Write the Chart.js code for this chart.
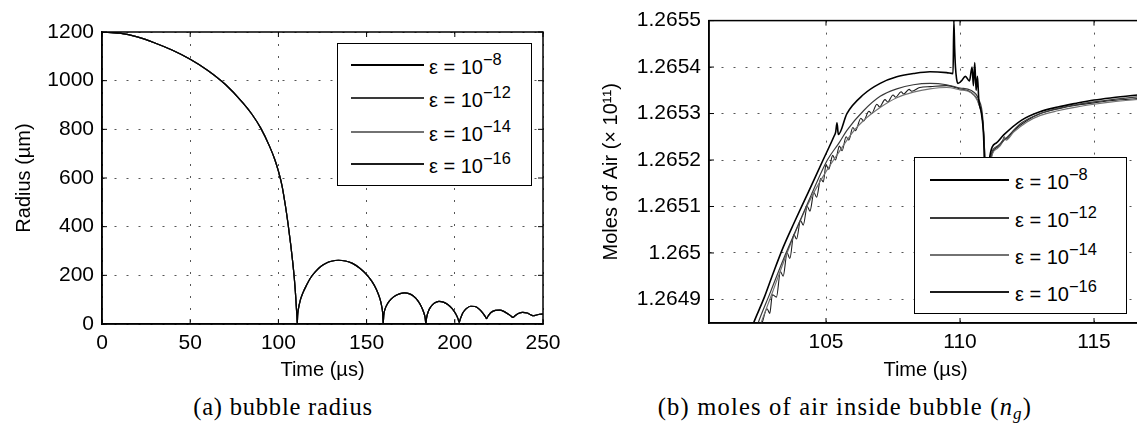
<!DOCTYPE html>
<html>
<head>
<meta charset="utf-8">
<script src="https://cdn.jsdelivr.net/npm/chart.js@4.4.1/dist/chart.umd.min.js"></script>
<style>
html,body{margin:0;padding:0;background:#fff;overflow:hidden;width:1137px;height:432px;}
#wrap{position:relative;width:1137px;height:432px;overflow:hidden;font-family:"Liberation Sans",Arial,sans-serif;color:#000;}
canvas{position:absolute;top:0;}
#c1{left:0;}
#c2{left:580px;}
.legend{position:absolute;background:#fff;border:1.5px solid #000;box-sizing:border-box;}
.sample{position:absolute;}
.lab{position:absolute;font-size:20px;white-space:nowrap;line-height:20px;}
.lab sup{font-size:0.82em;vertical-align:0.55em;line-height:0;}
.cap{position:absolute;top:394px;height:26px;line-height:26px;font-family:"Liberation Serif","Times New Roman",serif;font-size:24.5px;text-align:center;white-space:nowrap;letter-spacing:0.8px;}
.cap sub{font-size:0.7em;vertical-align:-0.25em;line-height:0;}
</style>
</head>
<body>
<div id="wrap">
  <canvas id="c1" width="570" height="390"></canvas>
  <canvas id="c2" width="580" height="390"></canvas>
  <div class="cap" style="left:133px;width:300px;">(a) bubble radius</div>
  <div class="cap" style="left:645px;width:400px;letter-spacing:1.2px;">(b) moles of air inside bubble (<i>n</i><sub><i>g</i></sub>)</div>
</div>
<script>
// ---------- data ----------
const epsExponents = [-8, -12, -14, -16];
const epsLabels = ['ε = 10⁻⁸', 'ε = 10⁻¹²', 'ε = 10⁻¹⁴', 'ε = 10⁻¹⁶'];

// (a) bubble radius (µm) vs time (µs) — all tolerances overlap
const radiusTime = [0,10,20,30,40,50,60,70,80,85,90,95,98,100,102,104,105.5,107,108,109,109.6,110,110.3,110.5,110.7,
  110.9,111.3,112.5,114,116,118,121,124,127,130,134,138,142,146,150,153,155.5,157.5,158.5,159.1,159.4,
  159.7,160.5,162,164,166.5,169,171.5,174,176.5,179,181,182.5,183.2,183.6,
  184,185,186.5,188.5,191,193.5,196,198.5,200.5,201.8,202.5,
  203.2,204.5,206.5,209,211.5,214,216,217.3,218,
  218.8,220.5,223,225.5,228,230.5,232,233,
  234,236,238.5,241,243,244.5,246,248,250];
const radiusValues = [1200,1195,1180,1155,1125,1088,1042,984,908,862,805,730,675,628,570,485,410,325,262,190,135,90,55,30,0,
  35,60,100,130,160,187,215,236,250,258,262,259,249,230,203,175,143,105,75,45,0,
  35,62,85,103,117,125,128,125,115,96,72,45,25,0,
  25,52,72,86,93,90,80,63,42,22,7,
  22,45,63,73,72,60,44,30,22,
  32,47,56,57,51,40,32,27,
  33,43,48,45,38,34,36,40,41];
const radiusXTicks = [0,50,100,150,200,250];
const radiusXTickLabels = ['0','50','100','150','200','250'];
const radiusYTicks = [0,200,400,600,800,1000,1200];
const radiusYTickLabels = ['0','200','400','600','800','1000','1200'];

// (b) moles of air (×10^11) vs time (µs)
const tEps8 = [102.1,102.3,102.7,103.0,103.4,103.81,104.35,104.89,105.29,105.36,105.41,105.46,105.78,106.40,107.02,107.64,108.26,108.88,109.50,109.74,109.77,109.80,109.83,109.87,109.92,110.05,110.2,110.35,110.45,110.5,110.55,110.6,110.65,110.7,110.8,110.88,110.93,111.0,111.09,111.36,111.63,112.30,112.98,113.65,114.33,115.0,115.67,116.8];
const nEps8 = [1.26482,1.26485,1.264905,1.264952,1.265012,1.265065,1.265132,1.26520,1.26525,1.26526,1.26528,1.265255,1.26530,1.265341,1.265365,1.265379,1.265386,1.26539,1.265388,1.265386,1.26550,1.26544,1.26540,1.265375,1.265365,1.26537,1.26538,1.26537,1.2654,1.26536,1.26541,1.26535,1.26538,1.26533,1.26530,1.26525,1.26515,1.26505,1.26520,1.265237,1.265254,1.265286,1.265304,1.265314,1.265322,1.265329,1.265334,1.265341];

const tEps12 = [102.3,102.47,102.9,103.4,103.9,104.45,105.05,105.5,105.78,106.40,107.02,107.64,108.26,108.88,109.50,110.0,110.4,110.7,110.85,110.93,111.0,111.12,111.4,111.7,112.3,113.0,113.65,114.33,115.0,115.67,116.8];
const nEps12 = [1.26482,1.26485,1.264912,1.264985,1.265052,1.265125,1.2652,1.265238,1.265264,1.265306,1.265337,1.265353,1.265362,1.265365,1.265362,1.265355,1.26535,1.26533,1.26529,1.2652,1.26505,1.2652,1.26523,1.265246,1.26528,1.2653,1.265311,1.265319,1.265325,1.26533,1.265337];

const tEps14 = [102.4,102.58,103.0,103.5,104.0,104.5,105.0,105.4,106.0,106.4,107.02,107.64,108.26,108.88,109.5,110.0,110.4,110.7,110.85,110.93,111.0,111.15,111.4,111.6,111.65,111.72,112.0,112.5,113.0,113.65,114.33,115.0,115.67,116.8];
const nEps14 = [1.26482,1.26485,1.264915,1.264993,1.265065,1.265125,1.265175,1.26521,1.26526,1.265285,1.265313,1.265334,1.265346,1.265353,1.265356,1.265351,1.265345,1.26532,1.26528,1.2652,1.26505,1.2652,1.265225,1.26524,1.265248,1.265243,1.26526,1.265282,1.265296,1.265306,1.265314,1.26532,1.265325,1.265331];

const tEps16 = [102.45,102.62,102.8,102.9,103.0,103.15,103.3,103.4,103.55,103.65,103.8,103.9,104.05,104.15,104.3,104.4,104.55,104.65,104.8,104.9,105.0,105.1,105.25,105.35,105.5,105.6,105.75,105.85,106.0,106.1,106.3,106.4,106.6,106.7,106.9,107.0,107.2,107.3,107.5,107.6,107.8,107.9,108.1,108.2,108.5,108.9,109.5,110.0,110.4,110.7,110.85,110.93,111.0,111.15,111.4,111.6,111.65,111.7,112.0,112.5,113.0,113.65,114.33,115.0,115.67,116.8];
const nEps16 = [1.26482,1.26485,1.26488,1.26487,1.26491,1.264905,1.26496,1.26495,1.26500,1.264988,1.26504,1.26503,1.26507,1.26506,1.26510,1.26509,1.26513,1.26512,1.26516,1.265153,1.26519,1.26518,1.26521,1.2652,1.26523,1.26522,1.26525,1.265243,1.26527,1.265263,1.26529,1.265284,1.265305,1.2653,1.26532,1.265314,1.26533,1.265325,1.26534,1.265335,1.265347,1.265342,1.265352,1.265348,1.265356,1.265358,1.26536,1.265353,1.265346,1.265322,1.26528,1.2652,1.26505,1.2652,1.265228,1.265243,1.26525,1.265245,1.265263,1.265285,1.2653,1.26531,1.265318,1.265323,1.265328,1.265333];

const molesXTicks = [105,110,115];
const molesXTickLabels = ['105','110','115'];
const molesYTicks = [1.2649,1.265,1.2651,1.2652,1.2653,1.2654,1.2655];
const molesYTickLabels = ['1.2649','1.265','1.2651','1.2652','1.2653','1.2654','1.2655'];

// ---------- styling ----------
const FAMILY = '"Liberation Sans", Arial, sans-serif';
const lineColors = ['#000000', '#3a3a3a', '#727272', '#1c1c1c'];
const widthsA = [1.2, 1.2, 1.2, 1.2];
const widthsB = [1.6, 1.2, 1.2, 1.1];

const framePlugin = {
  id: 'frame',
  afterDatasetsDraw(chart) {
    const {ctx, chartArea: {left, top, right, bottom}} = chart;
    const xs = chart.scales.x, ys = chart.scales.y;
    ctx.save();
    ctx.strokeStyle = '#000';
    ctx.lineWidth = 1.5;
    ctx.strokeRect(left, top, right - left, bottom - top);
    ctx.lineWidth = 1;
    ctx.beginPath();
    xs.ticks.forEach(t => {
      const p = xs.getPixelForValue(t.value);
      ctx.moveTo(p, bottom); ctx.lineTo(p, bottom - 5);
      ctx.moveTo(p, top); ctx.lineTo(p, top + 5);
    });
    ys.ticks.forEach(t => {
      const p = ys.getPixelForValue(t.value);
      ctx.moveTo(left, p); ctx.lineTo(left + 5, p);
      ctx.moveTo(right, p); ctx.lineTo(right - 5, p);
    });
    ctx.stroke();
    ctx.restore();
  }
};

function axis(min, max, ticks, labels, fitSize, isX, title, titlePad) {
  return {
    type: 'linear', min, max,
    afterBuildTicks: s => { s.ticks = ticks.map(v => ({value: v})); },
    afterFit: s => { if (isX) s.height = fitSize; else s.width = fitSize; },
    ticks: {callback: (v, i) => labels[i], font: {size: 21, family: FAMILY}, color: '#000', padding: isX ? 7 : 8, maxRotation: 0, autoSkip: false},
    grid: {drawTicks: false, color: '#555', lineWidth: 1},
    border: {dash: [2, 10], color: '#000', width: 1.5},
    title: {display: true, text: title, font: {size: 20, family: FAMILY}, color: '#000', padding: titlePad}
  };
}

function series(ts, vs) { return ts.map((t, i) => ({x: t, y: vs[i]})); }

const chartA = new Chart(document.getElementById('c1'), {
  type: 'line',
  data: {
    datasets: epsLabels.map((lab, i) => ({
      label: lab, data: series(radiusTime, radiusValues),
      borderColor: lineColors[i], borderWidth: widthsA[i], pointRadius: 0,
      cubicInterpolationMode: 'monotone', fill: false
    }))
  },
  options: {
    responsive: false, animation: false, events: [],
    layout: {padding: {left: 0, top: 32, right: 27, bottom: 0}},
    plugins: {legend: {display: false}, tooltip: {enabled: false}},
    scales: {
      x: axis(0, 250, radiusXTicks, radiusXTickLabels, 66, true, 'Time (µs)', {top: 0, bottom: 8}),
      y: axis(0, 1200, radiusYTicks, radiusYTickLabels, 102, false, 'Radius (µm)', {top: 12, bottom: 0})
    }
  },
  plugins: [framePlugin]
});

const molesSeries = [[tEps8, nEps8], [tEps12, nEps12], [tEps14, nEps14], [tEps16, nEps16]];
const chartB = new Chart(document.getElementById('c2'), {
  type: 'line',
  data: {
    datasets: epsLabels.map((lab, i) => ({
      label: lab, data: series(molesSeries[i][0], molesSeries[i][1]),
      borderColor: lineColors[i], borderWidth: widthsB[i], pointRadius: 0,
      cubicInterpolationMode: 'monotone', fill: false
    }))
  },
  options: {
    responsive: false, animation: false, events: [],
    layout: {padding: {left: 0, top: 15, right: 18, bottom: 0}},
    plugins: {legend: {display: false}, tooltip: {enabled: false}},
    scales: {
      x: axis(100.634, 116.79, molesXTicks, molesXTickLabels, 67, true, 'Time (µs)', {top: 0, bottom: 8}),
      y: axis(1.2648493, 1.2655, molesYTicks, molesYTickLabels, 129, false, 'Moles of Air (× 10¹¹)', {top: 19, bottom: 0})
    }
  },
  plugins: [framePlugin]
});

// ---------- HTML legends (built from the chart datasets) ----------
const legendLayouts = [
  {chart: chartA, box: [337, 43, 195, 143], rowsY: [65, 98, 132, 164], lineX: [351, 424], textX: 429},
  {chart: chartB, box: [914, 157, 213, 157], rowsY: [180, 218, 255, 292], lineX: [930, 1009], textX: 1015}
];
const wrap = document.getElementById('wrap');
legendLayouts.forEach(L => {
  const box = document.createElement('div');
  box.className = 'legend';
  box.style.left = L.box[0] + 'px'; box.style.top = L.box[1] + 'px';
  box.style.width = L.box[2] + 'px'; box.style.height = L.box[3] + 'px';
  wrap.appendChild(box);
  L.chart.data.datasets.forEach((ds, i) => {
    const y = L.rowsY[i];
    const s = document.createElement('div');
    s.className = 'sample';
    const w = Math.max(1.5, ds.borderWidth);
    s.style.left = (L.lineX[0]) + 'px';
    s.style.top = (y - w / 2) + 'px';
    s.style.width = (L.lineX[1] - L.lineX[0]) + 'px';
    s.style.height = w + 'px';
    s.style.background = ds.borderColor;
    wrap.appendChild(s);
    const t = document.createElement('div');
    t.className = 'lab';
    t.style.left = L.textX + 'px';
    t.style.top = (y - 8) + 'px';
    t.innerHTML = 'ε = 10<sup>−' + Math.abs(epsExponents[i]) + '</sup>';
    wrap.appendChild(t);
  });
});
</script>
</body>
</html>
